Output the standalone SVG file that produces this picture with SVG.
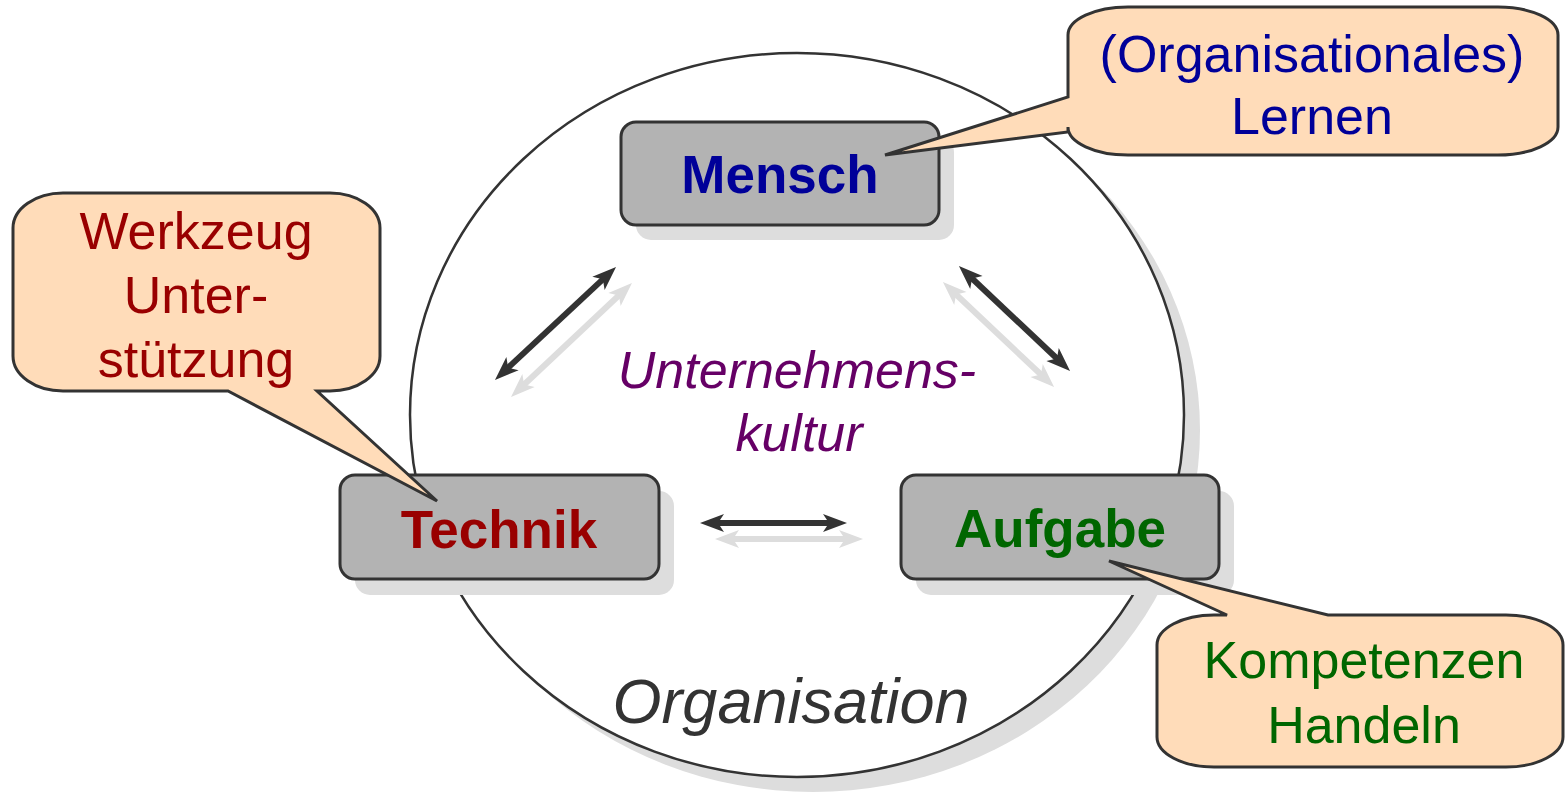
<svg xmlns="http://www.w3.org/2000/svg" width="1566" height="794" viewBox="0 0 1566 794">
<defs>
<style>
.sh{fill:#dddddd;stroke:none}
.box{fill:#b3b3b3;stroke:#333333;stroke-width:3}
.lbl{font-family:"Liberation Sans",Arial,sans-serif;font-weight:bold;font-size:53px;text-anchor:middle}
.co{fill:#ffdcb9;stroke:#333333;stroke-width:3;stroke-linejoin:miter}
.ct{font-family:"Liberation Sans",Arial,sans-serif;font-size:52px;text-anchor:middle}
.dk{stroke:#333333;stroke-width:6;fill:none;marker-start:url(#hd);marker-end:url(#hd)}
.lt{stroke:#dddddd;stroke-width:6;fill:none;marker-start:url(#hl);marker-end:url(#hl)}
</style>
<marker id="hd" viewBox="-8 -10 27 20" refX="0" refY="0" markerWidth="27" markerHeight="20" markerUnits="userSpaceOnUse" orient="auto-start-reverse">
<path d="M17,0 L-7,-9 L-1,0 L-7,9 Z" fill="#333333"/>
</marker>
<marker id="hl" viewBox="-8 -10 27 20" refX="0" refY="0" markerWidth="27" markerHeight="20" markerUnits="userSpaceOnUse" orient="auto-start-reverse">
<path d="M17,0 L-7,-9 L-1,0 L-7,9 Z" fill="#dddddd"/>
</marker>
</defs>
<rect width="1566" height="794" fill="#ffffff"/>
<g id="organisation">
<ellipse class="sh" cx="813" cy="430" rx="387" ry="362"/>
<ellipse cx="797" cy="415" rx="387" ry="362" fill="#ffffff" stroke="#333333" stroke-width="2.5"/>
<text x="791" y="723" font-family="'Liberation Sans',Arial,sans-serif" font-style="italic" font-size="63" fill="#333333" text-anchor="middle">Organisation</text>
</g>
<g id="kultur">
<text x="797" y="388" font-family="'Liberation Sans',Arial,sans-serif" font-style="italic" font-size="52" fill="#660066" text-anchor="middle">Unternehmens-</text>
<text x="799" y="451" font-family="'Liberation Sans',Arial,sans-serif" font-style="italic" font-size="52" fill="#660066" text-anchor="middle">kultur</text>
</g>
<g id="connectors">
<line class="lt" x1="523.4" y1="385.3" x2="619.6" y2="294.7"/>
<line class="dk" x1="507.4" y1="368.4" x2="603.6" y2="278.6"/>
<line class="lt" x1="955.3" y1="293.7" x2="1041.7" y2="375.3"/>
<line class="dk" x1="971.3" y1="277.7" x2="1057.7" y2="359.3"/>
<line class="lt" x1="732" y1="539" x2="846" y2="539"/>
<line class="dk" x1="717" y1="523" x2="830" y2="523"/>
</g>
<g id="mensch">
<rect class="sh" x="636" y="137" width="318" height="103" rx="15"/>
<rect class="box" x="621" y="122" width="318" height="103" rx="15"/>
<text class="lbl" x="780" y="193" fill="#000099">Mensch</text>
</g>
<g id="technik">
<rect class="sh" x="355" y="491" width="319" height="104" rx="15"/>
<rect class="box" x="340" y="475" width="319" height="104" rx="15"/>
<text class="lbl" x="499" y="548" fill="#990000">Technik</text>
</g>
<g id="aufgabe">
<rect class="sh" x="916" y="491" width="318" height="104" rx="15"/>
<rect class="box" x="901" y="475" width="318" height="104" rx="15"/>
<text class="lbl" x="1060" y="547" fill="#006600">Aufgabe</text>
</g>
<g id="callout-lernen">
<path class="co" d="M1128,7 L1498,7 A60,28 0 0 1 1558,35 L1558,127 A60,28 0 0 1 1498,155 L1128,155 A60,28 0 0 1 1068,127 L1068,132 L885,155 L1068,97 L1068,35 A60,28 0 0 1 1128,7 Z"/>
<text class="ct" x="1312" y="72" fill="#000099">(Organisationales)</text>
<text class="ct" x="1312" y="134" fill="#000099">Lernen</text>
</g>
<g id="callout-werkzeug">
<path class="co" d="M63,193 L330,193 A50,35 0 0 1 380,228 L380,356 A50,35 0 0 1 330,391 L317,391 L437,501 L228,391 L63,391 A50,35 0 0 1 13,356 L13,228 A50,35 0 0 1 63,193 Z"/>
<text class="ct" x="196" y="249" fill="#990000">Werkzeug</text>
<text class="ct" x="196" y="313" fill="#990000">Unter-</text>
<text class="ct" x="196" y="377" fill="#990000">stützung</text>
</g>
<g id="callout-kompetenzen">
<path class="co" d="M1214,615 L1227,615 L1109,561 L1328,615 L1506,615 A57,30 0 0 1 1563,645 L1563,737 A57,30 0 0 1 1506,767 L1214,767 A57,30 0 0 1 1157,737 L1157,645 A57,30 0 0 1 1214,615 Z"/>
<text class="ct" x="1364" y="678" fill="#006600">Kompetenzen</text>
<text class="ct" x="1364" y="743" fill="#006600">Handeln</text>
</g>
</svg>
